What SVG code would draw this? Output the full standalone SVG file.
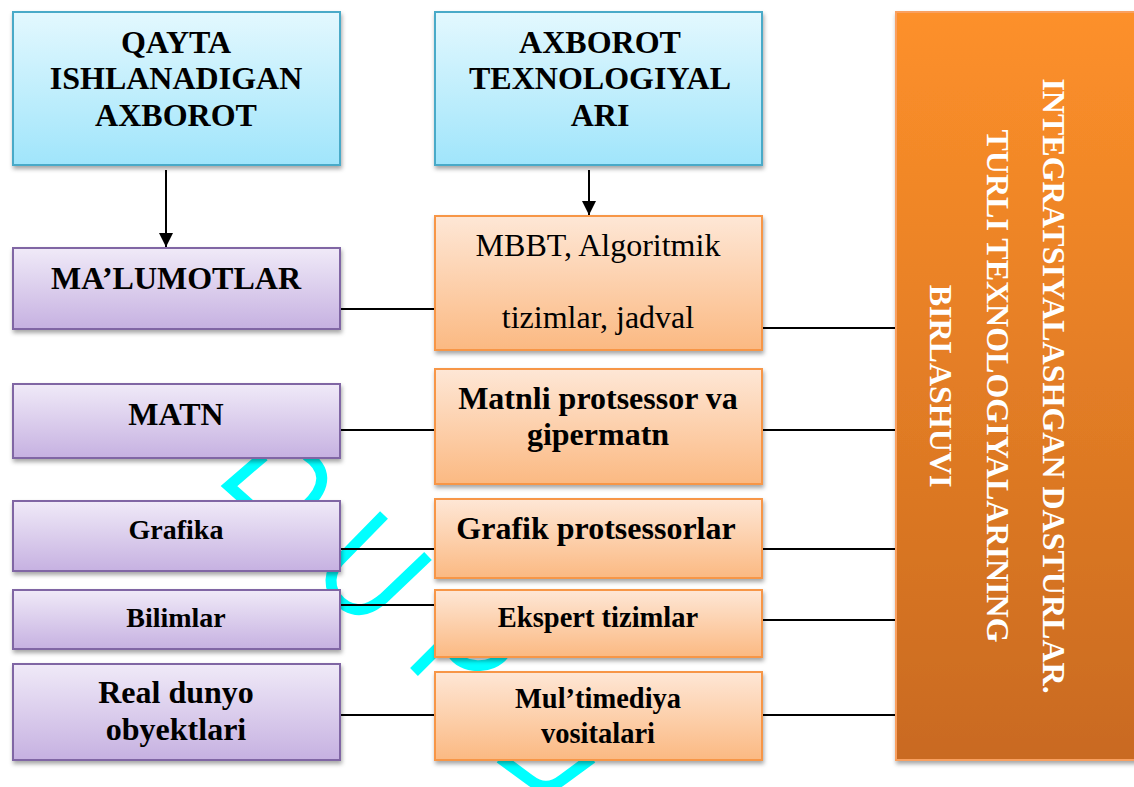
<svg xmlns="http://www.w3.org/2000/svg" width="1134" height="787" viewBox="0 0 1134 787">
<defs>
<linearGradient id="gCyan" x1="0" y1="0" x2="0" y2="1"><stop offset="0" stop-color="#e3f8fe"/><stop offset="1" stop-color="#a0e5fb"/></linearGradient>
<linearGradient id="gPurple" x1="0" y1="0" x2="0" y2="1"><stop offset="0" stop-color="#f0eaf8"/><stop offset="1" stop-color="#c6b1e1"/></linearGradient>
<linearGradient id="gPeach" x1="0" y1="0" x2="0" y2="1"><stop offset="0" stop-color="#fee7d6"/><stop offset="1" stop-color="#fbb982"/></linearGradient>
<linearGradient id="gOrange" x1="0" y1="0" x2="0" y2="1"><stop offset="0" stop-color="#fd902a"/><stop offset="1" stop-color="#c96a20"/></linearGradient>
<filter id="sh" x="-10%" y="-10%" width="120%" height="130%"><feDropShadow dx="1" dy="3" stdDeviation="2" flood-color="#000" flood-opacity="0.35"/></filter>
<marker id="arr" viewBox="0 0 10 10" refX="10" refY="5" markerWidth="14" markerHeight="14" markerUnits="userSpaceOnUse" orient="auto"><path d="M0,0 L10,5 L0,10 Z" fill="#000"/></marker>
<style>
.cyan{fill:url(#gCyan);stroke:#4aaac8;stroke-width:2;filter:url(#sh)}
.purple{fill:url(#gPurple);stroke:#8066a4;stroke-width:2;filter:url(#sh)}
.peach{fill:url(#gPeach);stroke:#f79646;stroke-width:2;filter:url(#sh)}
.big{fill:url(#gOrange);stroke:#f9a060;stroke-width:2;filter:url(#sh)}
.t{font-family:"Liberation Serif","Times New Roman",serif;font-weight:bold;text-anchor:middle;fill:#000}
.r{font-weight:normal}
.w{fill:#fff}
.c{stroke:#000;stroke-width:2;fill:none}
.wm{stroke:#00ffff;stroke-width:11;fill:none;stroke-linejoin:miter;stroke-linecap:butt}
</style>
</defs>
<rect width="1134" height="787" fill="#fff"/>
<g id="watermark">
<path class="wm" d="M264,456 L229,486 L258,512"/>
<path class="wm" d="M306,455 C326,468 328,486 306,506"/>
<path class="wm" d="M384,515 L338,562 C326,578 330,596 346,606 C360,614 372,608 384,598 L428,556"/>
<path class="wm" d="M414,672 L440,646"/>
<path class="wm" d="M452,652 C462,670 492,670 504,654"/>
<path class="wm" d="M500,758 L530,780 C540,788 552,788 562,780 L592,758"/>
</g>
<g id="connectors">
<line class="c" x1="166" y1="170" x2="166" y2="247" marker-end="url(#arr)"/>
<line class="c" x1="589" y1="170" x2="589" y2="215" marker-end="url(#arr)"/>
<line class="c" x1="340" y1="309" x2="435" y2="309"/>
<line class="c" x1="340" y1="430" x2="435" y2="430"/>
<line class="c" x1="340" y1="549" x2="435" y2="549"/>
<line class="c" x1="340" y1="605" x2="435" y2="605"/>
<line class="c" x1="340" y1="715" x2="435" y2="715"/>
<line class="c" x1="762" y1="328" x2="896" y2="328"/>
<line class="c" x1="762" y1="430" x2="896" y2="430"/>
<line class="c" x1="762" y1="549" x2="896" y2="549"/>
<line class="c" x1="762" y1="620" x2="896" y2="620"/>
<line class="c" x1="762" y1="715" x2="896" y2="715"/>
</g>
<g id="n_qayta"><rect class="cyan" x="13" y="12" width="327" height="153"/>
<text class="t" font-size="32"><tspan x="176" y="53">QAYTA</tspan><tspan x="176" y="89">ISHLANADIGAN</tspan><tspan x="176" y="126">AXBOROT</tspan></text></g>
<g id="n_axborot"><rect class="cyan" x="435" y="12" width="327" height="153"/>
<text class="t" font-size="32"><tspan x="600" y="53">AXBOROT</tspan><tspan x="600" y="89">TEXNOLOGIYAL</tspan><tspan x="600" y="126">ARI</tspan></text></g>
<g id="n_malumotlar"><rect class="purple" x="13" y="248" width="327" height="81"/>
<text class="t" font-size="32" x="176" y="289">MA’LUMOTLAR</text></g>
<g id="n_matn"><rect class="purple" x="13" y="384" width="327" height="74"/>
<text class="t" font-size="32" x="176" y="425">MATN</text></g>
<g id="n_grafika"><rect class="purple" x="13" y="501" width="327" height="70"/>
<text class="t" font-size="28" x="176" y="539">Grafika</text></g>
<g id="n_bilimlar"><rect class="purple" x="13" y="590" width="327" height="59"/>
<text class="t" font-size="28" x="176" y="627">Bilimlar</text></g>
<g id="n_real"><rect class="purple" x="13" y="664" width="327" height="96"/>
<text class="t" font-size="32"><tspan x="176" y="703">Real dunyo</tspan><tspan x="176" y="740">obyektlari</tspan></text></g>
<g id="n_mbbt"><rect class="peach" x="435" y="216" width="327" height="134"/>
<text class="t r" font-size="32"><tspan x="598" y="256">MBBT, Algoritmik</tspan><tspan x="598" y="328">tizimlar, jadval</tspan></text></g>
<g id="n_matnli"><rect class="peach" x="435" y="369" width="327" height="115"/>
<text class="t" font-size="32"><tspan x="598" y="409">Matnli protsessor va</tspan><tspan x="598" y="445">gipermatn</tspan></text></g>
<g id="n_grafik"><rect class="peach" x="435" y="499" width="327" height="79"/>
<text class="t" font-size="32" x="596" y="539">Grafik protsessorlar</text></g>
<g id="n_ekspert"><rect class="peach" x="435" y="590" width="327" height="67"/>
<text class="t" font-size="28.5" x="598" y="627">Ekspert tizimlar</text></g>
<g id="n_multimediya"><rect class="peach" x="435" y="672" width="327" height="88"/>
<text class="t" font-size="28.5"><tspan x="598" y="708">Mul’timediya</tspan><tspan x="598" y="743">vositalari</tspan></text></g>
<g id="n_integratsiya"><rect class="big" x="896" y="12" width="250" height="748"/>
<text class="t w" font-size="32" transform="translate(1043,386) rotate(90)"><tspan x="0" y="0">INTEGRATSIYALASHGAN DASTURLAR.</tspan><tspan x="0" dy="56">TURLI TEXNOLOGIYALARINING</tspan><tspan x="0" dy="57">BIRLASHUVI</tspan></text></g>
</svg>
